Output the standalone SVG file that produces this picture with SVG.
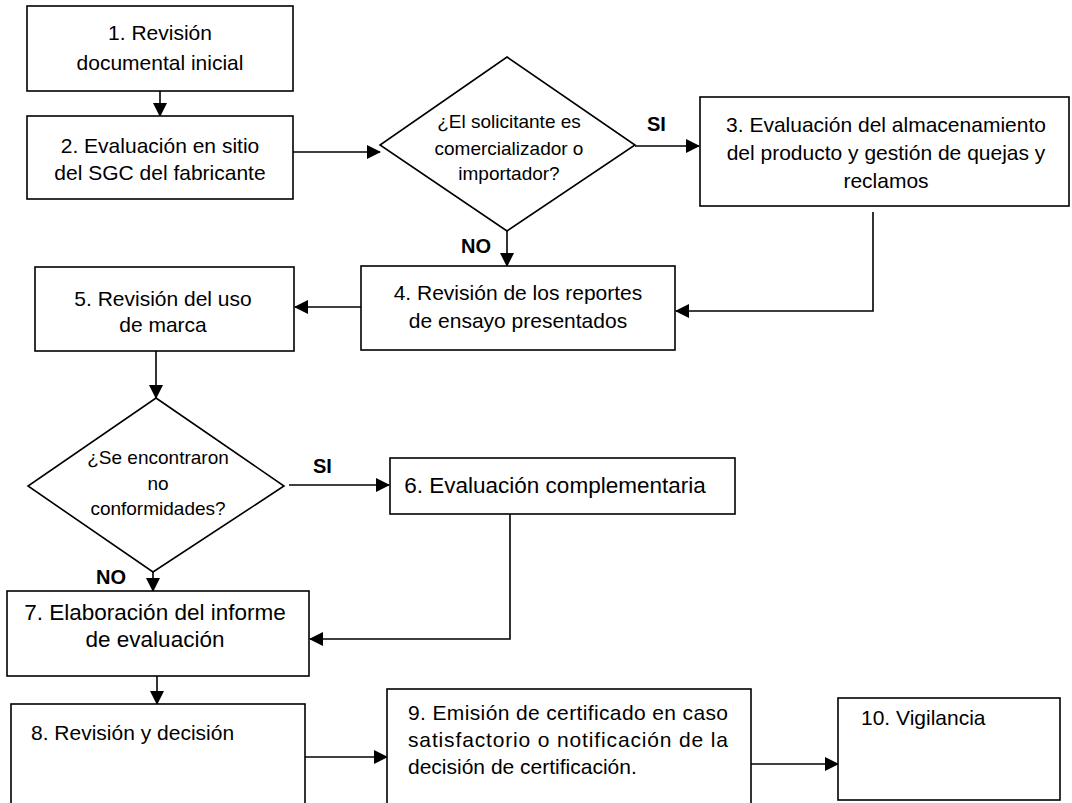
<svg xmlns="http://www.w3.org/2000/svg" width="1072" height="803" viewBox="0 0 1072 803">
<defs>
<marker id="arr" markerUnits="userSpaceOnUse" markerWidth="14" markerHeight="14" refX="13" refY="7" orient="auto">
<path d="M0,0 L14,7 L0,14 z" fill="#000"/>
</marker>
<style>
.box{fill:#fff;stroke:#000;stroke-width:1.6}
.t{font-family:"Liberation Sans",Arial,sans-serif;font-size:21px;fill:#000}
.c{text-anchor:middle}
.d{font-size:19px}
.lb{font-family:"Liberation Sans",Arial,sans-serif;font-size:20px;font-weight:bold;fill:#000}
.ln{fill:none;stroke:#000;stroke-width:1.6}
</style>
</defs>
<rect width="1072" height="803" fill="#fff"/>
<g id="connectors">
<path class="ln" d="M160,91 L160,116" marker-end="url(#arr)"/>
<path class="ln" d="M293,152 L380,152" marker-end="url(#arr)"/>
<path class="ln" d="M635,146 L699,146" marker-end="url(#arr)"/>
<path class="ln" d="M507,231 L507,266" marker-end="url(#arr)"/>
<path class="ln" d="M873,212 L873,311 L676,311" marker-end="url(#arr)"/>
<path class="ln" d="M361,307 L295,307" marker-end="url(#arr)"/>
<path class="ln" d="M156,351 L156,398" marker-end="url(#arr)"/>
<path class="ln" d="M289,485 L389,485" marker-end="url(#arr)"/>
<path class="ln" d="M153,556 L153,591" marker-end="url(#arr)"/>
<path class="ln" d="M510,514 L510,639 L310,639" marker-end="url(#arr)"/>
<path class="ln" d="M157,676 L157,704" marker-end="url(#arr)"/>
<path class="ln" d="M305,757 L387,757" marker-end="url(#arr)"/>
<path class="ln" d="M751,764 L838,764" marker-end="url(#arr)"/>
<text class="lb" x="647" y="131">SI</text>
<text class="lb" x="461" y="253">NO</text>
<text class="lb" x="313" y="473">SI</text>
<text class="lb" x="96" y="584">NO</text>
</g>
<g id="n1">
<rect class="box" x="27" y="6" width="266" height="85"/>
<text class="t c" x="160" y="40">1. Revisión</text>
<text class="t c" x="160" y="70">documental inicial</text>
</g>
<g id="n2">
<rect class="box" x="27" y="116" width="266" height="83"/>
<text class="t c" x="160" y="153">2. Evaluación en sitio</text>
<text class="t c" x="160" y="180">del SGC del fabricante</text>
</g>
<g id="d1">
<polygon class="box" points="507,57 635,145 507,231 380,145"/>
<text class="t c d" x="509" y="128">¿El solicitante es</text>
<text class="t c d" x="509" y="155">comercializador o</text>
<text class="t c d" x="509" y="180">importador?</text>
</g>
<g id="n3">
<rect class="box" x="700" y="97" width="369" height="109"/>
<text class="t c" x="886" y="132">3. Evaluación del almacenamiento</text>
<text class="t c" x="886" y="160">del producto y gestión de quejas y</text>
<text class="t c" x="886" y="188">reclamos</text>
</g>
<g id="n4">
<rect class="box" x="361" y="266" width="314" height="84"/>
<text class="t c" x="518" y="300">4. Revisión de los reportes</text>
<text class="t c" x="518" y="328">de ensayo presentados</text>
</g>
<g id="n5">
<rect class="box" x="35" y="267" width="259" height="84"/>
<text class="t c" x="163" y="306">5. Revisión del uso</text>
<text class="t c" x="163" y="332">de marca</text>
</g>
<g id="d2">
<polygon class="box" points="156,398 284,486 153,572 28,486"/>
<text class="t c d" x="158" y="464">¿Se encontraron</text>
<text class="t c d" x="158" y="490">no</text>
<text class="t c d" x="158" y="515">conformidades?</text>
</g>
<g id="n6">
<rect class="box" x="390" y="458" width="345" height="56"/>
<text class="t c" x="555" y="493" style="font-size:22.5px">6. Evaluación complementaria</text>
</g>
<g id="n7">
<rect class="box" x="7" y="591" width="302" height="85"/>
<text class="t c" x="155" y="620" style="font-size:22.5px">7. Elaboración del informe</text>
<text class="t c" x="155" y="647" style="font-size:22.5px">de evaluación</text>
</g>
<g id="n8">
<rect class="box" x="11" y="704" width="294" height="110"/>
<text class="t" x="31" y="740">8. Revisión y decisión</text>
</g>
<g id="n9">
<rect class="box" x="387" y="689" width="364" height="125"/>
<text class="t" x="408" y="720" textLength="320" lengthAdjust="spacing">9. Emisión de certificado en caso</text>
<text class="t" x="408" y="747" textLength="320" lengthAdjust="spacing">satisfactorio o notificación de la</text>
<text class="t" x="408" y="774">decisión de certificación.</text>
</g>
<g id="n10">
<rect class="box" x="838" y="698" width="222" height="102"/>
<text class="t" x="861" y="725">10. Vigilancia</text>
</g>
</svg>
